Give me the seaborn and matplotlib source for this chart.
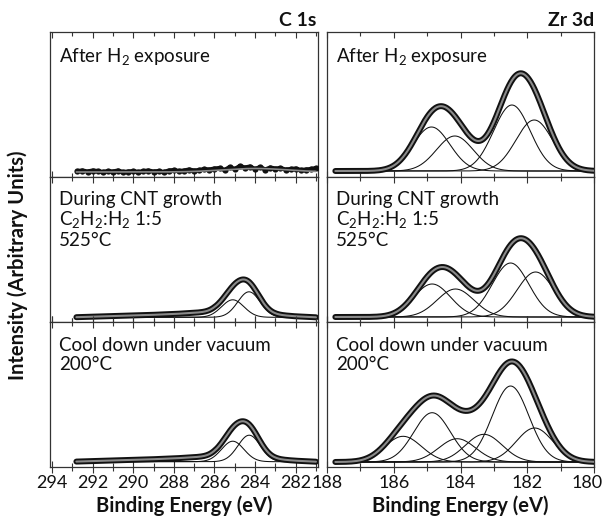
import numpy as np
import pandas as pd
import matplotlib
matplotlib.use("Agg")
import matplotlib.pyplot as plt
import matplotlib.transforms as mtransforms
import seaborn as sns
from matplotlib.ticker import MultipleLocator

sns.set_theme(style="ticks")
plt.rcParams['font.family'] = ['Lato', 'DejaVu Sans']
plt.rcParams['mathtext.fontset'] = 'custom'
plt.rcParams['mathtext.rm'] = 'Lato'
plt.rcParams['mathtext.it'] = 'Lato:italic'
plt.rcParams['mathtext.bf'] = 'Lato:bold'

# ---------------- data (intensities in arbitrary units) ----
panel_labels = [
    "After H$_2$ exposure",
    "During CNT growth\nC$_2$H$_2$:H$_2$ 1:5\n525°C",
    "Cool down under vacuum\n200°C",
]
column_titles = ["C 1s", "Zr 3d"]

# C 1s, top panel: measured points (almost no carbon)
c1s_top_be = [292.75, 292.5, 292.25, 292.0, 291.75, 291.5, 291.25, 291.0,
              290.75, 290.5, 290.25, 290.0, 289.75, 289.5, 289.25, 289.0,
              288.75, 288.5, 288.25, 288.0, 287.75, 287.5, 287.25, 287.0,
              286.75, 286.5, 286.25, 286.0, 285.75, 285.5, 285.25, 285.0,
              284.75, 284.5, 284.25, 284.0, 283.75, 283.5, 283.25, 283.0,
              282.75, 282.5, 282.25, 282.0, 281.75, 281.5, 281.25, 281.0]
c1s_top_int = [6.0, 6.5, 5.5, 6.5, 6.0, 5.0, 6.0, 5.5,
               6.5, 5.0, 5.5, 6.0, 5.0, 6.0, 6.5, 5.5,
               6.0, 5.0, 6.5, 7.0, 6.0, 6.5, 7.5, 6.5,
               7.0, 8.0, 7.5, 8.5, 9.0, 7.0, 10.0, 8.0,
               11.0, 9.5, 10.5, 8.0, 10.0, 7.5, 9.5, 8.5,
               9.0, 7.5, 8.0, 8.5, 7.0, 7.5, 8.0, 9.0]
c1s_top_fit = {"floor": 5.0, "centers": [284.0], "heights": [3.5], "sigma": 1.6}

# C 1s, middle and bottom panels: fitted components
c1s_bg_be = [293, 292, 291, 290, 289, 288, 287, 286, 285, 284, 283, 282, 281]
c1s_bg = [0.0, 0.6, 1.2, 1.8, 2.5, 3.3, 4.5, 5.5, 4.8, 3.5, 2.5, 1.0, 0.0]
c1s_mid = {"floor": 4.7, "centers": [285.1, 284.3], "heights": [17.5, 25.5], "sigma": 0.55}
c1s_bot = {"floor": 5.3, "centers": [285.1, 284.29], "heights": [20.5, 26.5], "sigma": 0.55}

# Zr 3d fitted components per panel
zr_top = {"floor": 6.0, "centers": [184.87, 184.17, 182.46, 181.79],
          "heights": [44, 35, 66, 51], "sigma": 0.55}
zr_mid = {"floor": 5.0, "centers": [184.85, 184.15, 182.5, 181.75],
          "heights": [33, 28, 54, 45], "sigma": 0.55}
zr_bot = {"floor": 5.0, "centers": [185.72, 184.85, 184.1, 183.3, 182.5, 181.78],
          "heights": [25.7, 49.3, 23.3, 27.7, 76, 34], "sigma": 0.55}

c1s_range = (292.8, 281.0)
zr_range = (187.75, 180.0)

# ---------------- helpers ----------------
def gauss(x, c, h, s):
    return h * np.exp(-(x - c) ** 2 / (2 * s ** 2))

def components(x, p):
    return [p["floor"] + gauss(x, c, h, p["sigma"]) for c, h in zip(p["centers"], p["heights"])]

def envelope(x, p, bg=None):
    y = np.full_like(x, p["floor"])
    for c, h in zip(p["centers"], p["heights"]):
        y = y + gauss(x, c, h, p["sigma"])
    if bg is not None:
        y = y + bg
    return y

BLACK = "#111111"
GRAY = "#8a8a8a"

def draw_envelope(ax, x, y):
    df = pd.DataFrame({"be": x, "I": y})
    sns.lineplot(data=df, x="be", y="I", ax=ax, color=BLACK, lw=4.3,
                 sort=False, estimator=None, solid_capstyle="round", zorder=3)
    sns.lineplot(data=df, x="be", y="I", ax=ax, color=GRAY, lw=1.5,
                 sort=False, estimator=None, zorder=4)

def draw_components(ax, x, comps):
    for comp in comps:
        df = pd.DataFrame({"be": x, "I": comp})
        sns.lineplot(data=df, x="be", y="I", ax=ax, color=BLACK, lw=0.75,
                     sort=False, estimator=None, zorder=2)

# ---------------- figure ----------------
fig = plt.figure(figsize=(6.04, 5.16), dpi=100)
W, H = 604, 516
lefts = [50, 327]
widths = [268, 267]
tops = [32, 177, 322]
ph = 145

axes = [[None, None] for _ in range(3)]
for r in range(3):
    for c in range(2):
        ax = fig.add_axes([lefts[c] / W, (H - tops[r] - ph) / H, widths[c] / W, ph / H])
        axes[r][c] = ax

xc = np.linspace(c1s_range[0], c1s_range[1], 400)
xz = np.linspace(zr_range[0], zr_range[1], 400)
bg_c = np.interp(xc, c1s_bg_be[::-1], c1s_bg[::-1])

# C 1s top
ax = axes[0][0]
df = pd.DataFrame({"be": c1s_top_be, "I": c1s_top_int})
sns.lineplot(data=df, x="be", y="I", ax=ax, color=BLACK, lw=3.0, sort=False,
             estimator=None, marker="o", markersize=4.5, markeredgewidth=0, zorder=3)
fit = envelope(xc, c1s_top_fit)
sns.lineplot(x=xc, y=fit, ax=ax, color=GRAY, lw=1.2, estimator=None, sort=False, zorder=4)

# C 1s middle / bottom
for r, p in [(1, c1s_mid), (2, c1s_bot)]:
    ax = axes[r][0]
    draw_components(ax, xc, components(xc, p))
    draw_envelope(ax, xc, envelope(xc, p, bg_c))

# Zr 3d
for r, p in [(0, zr_top), (1, zr_mid), (2, zr_bot)]:
    ax = axes[r][1]
    draw_components(ax, xz, components(xz, p))
    draw_envelope(ax, xz, envelope(xz, p))

label_y = [0.905, 0.905, 0.895]
for r in range(3):
    for c in range(2):
        ax = axes[r][c]
        if c == 0:
            ax.set_xlim(294.1, 280.9)
        else:
            ax.set_xlim(188.0, 180.0)
        ax.xaxis.set_major_locator(MultipleLocator(2))
        ax.xaxis.set_minor_locator(MultipleLocator(1))
        ax.set_ylim(0, 145)
        ax.set_yticks([])
        ax.set_ylabel("")
        ax.set_xlabel("")
        for s in ax.spines.values():
            s.set_visible(True)
            s.set_color("#333333")
            s.set_linewidth(0.9)
        if r < 2:
            ax.tick_params(axis="x", which="both", direction="in", top=True, bottom=True,
                           labelbottom=False, width=0.8, color="#333333")
            ax.tick_params(axis="x", which="major", length=4.5)
            ax.tick_params(axis="x", which="minor", length=3)
        else:
            ax.tick_params(axis="x", which="both", direction="inout", top=True, bottom=True,
                           labelbottom=True, width=0.8, color="#333333", pad=2,
                           labelsize=13, labelcolor="#111111")
            ax.tick_params(axis="x", which="major", length=8)
            ax.tick_params(axis="x", which="minor", length=6)
        ax.text(0.035, label_y[r], panel_labels[r], transform=ax.transAxes,
                ha="left", va="top", fontsize=13.5, color="#111111", linespacing=1.1)

for c in range(2):
    axes[2][c].set_xlabel("Binding Energy (eV)", fontsize=14.5, fontweight="bold",
                          color="#111111", labelpad=3)

# keep the last right-hand tick label inside the canvas
fig.canvas.draw()
for lab in axes[2][1].get_xticklabels():
    if lab.get_text().strip() in ("180",):
        lab.set_transform(lab.get_transform() +
                          mtransforms.ScaledTranslation(-0.07, 0, fig.dpi_scale_trans))

fig.text(316 / W, 1 - 20 / H, column_titles[0], ha="right", va="center",
         fontsize=14, fontweight="bold", color="#111111")
fig.text(594 / W, 1 - 20 / H, column_titles[1], ha="right", va="center",
         fontsize=14, fontweight="bold", color="#111111")
fig.text(18 / W, 1 - 265 / H, "Intensity (Arbitrary Units)", rotation=90,
         ha="center", va="center", fontsize=14.5, fontweight="bold", color="#111111")

fig.savefig("out.png", dpi=100)
